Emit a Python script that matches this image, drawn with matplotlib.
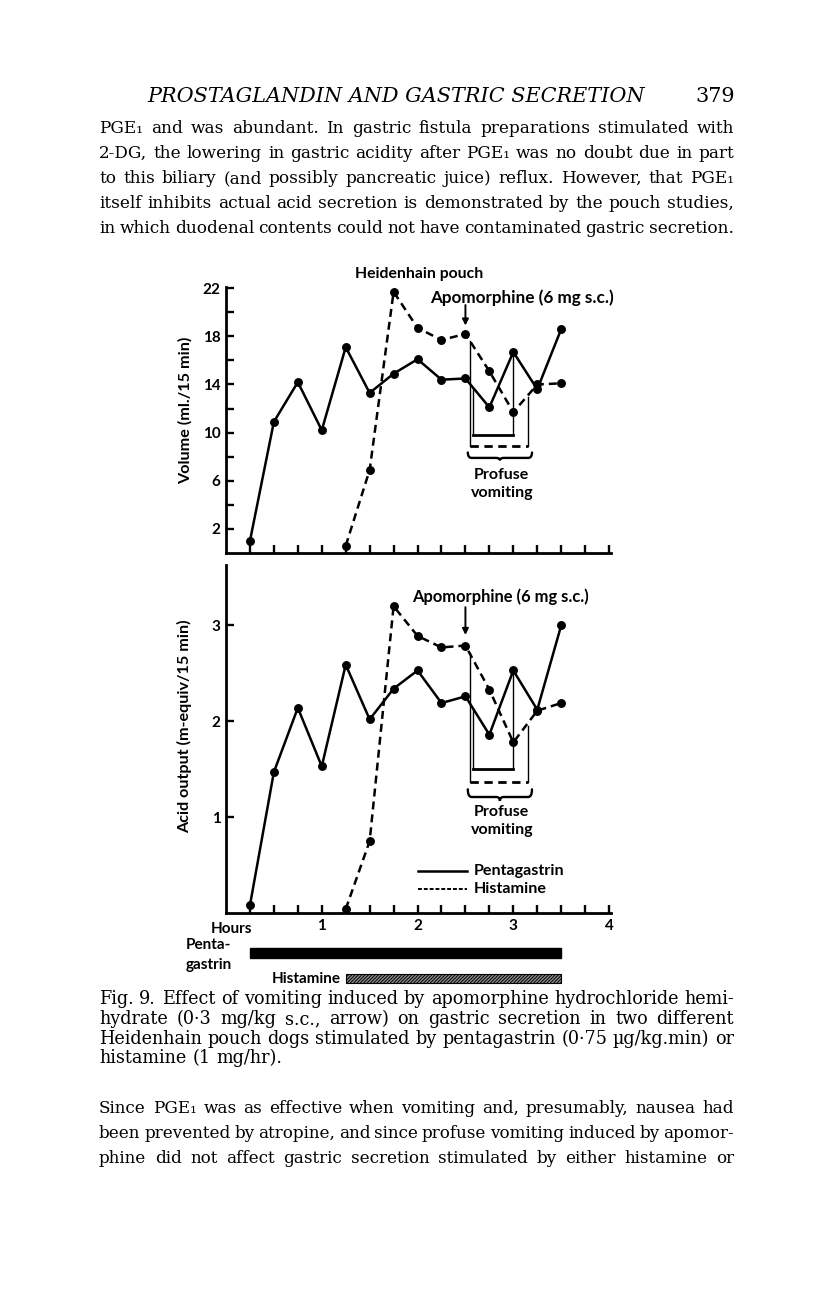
import numpy as np
import matplotlib
matplotlib.use("Agg")
import matplotlib.pyplot as plt
from matplotlib.path import Path
from matplotlib.patches import PathPatch

# ---------------- data ----------------
hours_penta = [0.25, 0.5, 0.75, 1.0, 1.25, 1.5, 1.75, 2.0, 2.25, 2.5, 2.75, 3.0, 3.25, 3.5]
volume_penta = [1.0, 10.9, 14.2, 10.2, 17.1, 13.3, 14.9, 16.1, 14.4, 14.5, 12.1, 16.7, 13.6, 18.6]
acid_penta = [0.08, 1.47, 2.14, 1.53, 2.59, 2.02, 2.34, 2.53, 2.19, 2.26, 1.86, 2.53, 2.12, 3.0]

hours_hist = [1.25, 1.5, 1.75, 2.0, 2.25, 2.5, 2.75, 3.0, 3.25, 3.5]
volume_hist = [0.6, 6.9, 21.7, 18.7, 17.7, 18.2, 15.1, 11.7, 14.0, 14.1]
acid_hist = [0.04, 0.75, 3.20, 2.89, 2.77, 2.79, 2.33, 1.78, 2.11, 2.19]

apomorphine_time = 2.5
vomit_penta = (2.58, 3.0)     # profuse vomiting period, pentagastrin dog (h)
vomit_hist = (2.545, 3.155)   # profuse vomiting period, histamine dog (h)
infusion_penta = (0.25, 3.5)
infusion_hist = (1.25, 3.5)

vol_ticks = [2, 4, 6, 8, 10, 12, 14, 16, 18, 20, 22]
vol_ticklabels = ["2", "", "6", "", "10", "", "14", "", "18", "", "22"]
acid_ticks = [1, 2, 3]
acid_ticklabels = ["1", "2", "3"]
hour_ticks = list(np.arange(0.25, 4.001, 0.25))
hour_ticklabels = [str(int(t)) if float(t).is_integer() else "" for t in hour_ticks]

# ---------------- figure ----------------
W, H = 816, 1296
fig = plt.figure(figsize=(W / 100, H / 100), dpi=100)
fig.patch.set_facecolor("white")
plt.rcParams["hatch.linewidth"] = 0.7
renderer = fig.canvas.get_renderer()

SANS = "Lato"
SERIF = "DejaVu Serif"


def fx(px):
    return px / W


def fy(py):
    return 1 - py / H


def measure(s, size, **kw):
    t = fig.text(0, 0, s, fontsize=size, **kw)
    w = t.get_window_extent(renderer).width
    t.remove()
    return w


def text_block(lines, x0, x1, baselines, justify, family, gap_em=0.24, style="normal"):
    width = x1 - x0
    sizes = []
    for line, j in zip(lines, justify):
        if j:
            words = line.split(" ")
            a = sum(measure(w, 10, family=family, style=style) for w in words)
            sizes.append(width / (a / 10 + (len(words) - 1) * gap_em * 100 / 72))
    size = min(sizes)
    for line, y, j in zip(lines, baselines, justify):
        words = line.split(" ")
        widths = [measure(w, size, family=family, style=style) for w in words]
        if j:
            gap = (width - sum(widths)) / (len(words) - 1)
        else:
            gap = gap_em * size * 100 / 72 * 1.15
        x = x0
        for w, wd in zip(words, widths):
            fig.text(fx(x), fy(y), w, fontsize=size, family=family, style=style,
                     va="baseline", ha="left")
            x += wd + gap
    return size


# ---- page header ----
hdr = "PROSTAGLANDIN AND GASTRIC SECRETION"
hsize = 10 * 496 / measure(hdr, 10, family=SERIF, style="italic")
fig.text(fx(147), fy(102), hdr, fontsize=hsize, family=SERIF, style="italic",
         va="baseline", ha="left")
fig.text(fx(735), fy(102), "379", fontsize=hsize, family=SERIF, va="baseline", ha="right")

para1 = [
    "PGE\u2081 and was abundant. In gastric fistula preparations stimulated with",
    "2-DG, the lowering in gastric acidity after PGE\u2081 was no doubt due in part",
    "to this biliary (and possibly pancreatic juice) reflux. However, that PGE\u2081",
    "itself inhibits actual acid secretion is demonstrated by the pouch studies,",
    "in which duodenal contents could not have contaminated gastric secretion.",
]
text_block(para1, 99, 734, [133, 158, 183, 208, 233], [True] * 5, SERIF)

caption = [
    "Fig. 9. Effect of vomiting induced by apomorphine hydrochloride hemi-",
    "hydrate (0\u00b73 mg/kg s.c., arrow) on gastric secretion in two different",
    "Heidenhain pouch dogs stimulated by pentagastrin (0\u00b775 \u00b5g/kg.min) or",
    "histamine (1 mg/hr).",
]
text_block(caption, 99, 734, [1004, 1024, 1044, 1063], [True, True, True, False], SERIF,
           gap_em=0.3)

para2 = [
    "Since PGE\u2081 was as effective when vomiting and, presumably, nausea had",
    "been prevented by atropine, and since profuse vomiting induced by apomor-",
    "phine did not affect gastric secretion stimulated by either histamine or",
]
text_block(para2, 99, 734, [1113, 1138, 1163], [True] * 3, SERIF, gap_em=0.2)

# ---------------- chart axes ----------------
X0, X1 = 226, 611
XMAX = 4.02
ax1 = fig.add_axes([fx(X0), fy(553), (X1 - X0) / W, (553 - 287) / H])
ax2 = fig.add_axes([fx(X0), fy(913), (X1 - X0) / W, (913 - 565) / H])

LW_SPINE = 2.0
for ax in (ax1, ax2):
    ax.set_facecolor("none")
    ax.set_xlim(0, XMAX)
    for s in ("top", "right"):
        ax.spines[s].set_visible(False)
    for s in ("left", "bottom"):
        ax.spines[s].set_linewidth(LW_SPINE)
    ax.tick_params(direction="in", length=6, width=1.7, pad=4, colors="k")
    ax.set_xticks(hour_ticks)

TICKFS = 11
ax1.set_ylim(0, 22.1)
ax2.set_ylim(0, 3.63)
ax1.set_yticks(vol_ticks, vol_ticklabels, fontweight="bold", family=SANS, fontsize=TICKFS)
ax2.set_yticks(acid_ticks, acid_ticklabels, fontweight="bold", family=SANS, fontsize=TICKFS)
ax1.set_xticks(hour_ticks, [""] * len(hour_ticks))
ax2.set_xticks(hour_ticks, hour_ticklabels, fontweight="bold", family=SANS, fontsize=TICKFS)
ax2.tick_params(axis="x", pad=4)
fig.text(fx(231), fy(929), "Hours", ha="center", va="center",
         fontweight="bold", family=SANS, fontsize=TICKFS)

fig.text(fx(185), fy(410), "Volume (ml./15 min)", rotation=90, ha="center", va="center",
         fontweight="bold", family=SANS, fontsize=11.6)
fig.text(fx(185), fy(726), "Acid output (m-equiv/15 min)", rotation=90, ha="center",
         va="center", fontweight="bold", family=SANS, fontsize=11.6)

LW = 1.8
DASH = (3.2, 2.0)
MS = 5.4


def brace(ax, xa, xb, ytop, ybot, ynotch):
    d = (xb - xa) * 0.06
    xm = (xa + xb) / 2
    verts = [(xa, ytop), (xa, ybot), (xa + d, ybot),
             (xm - d, ybot), (xm, ybot), (xm, ynotch),
             (xm, ybot), (xm + d, ybot),
             (xb - d, ybot), (xb, ybot), (xb, ytop)]
    codes = [Path.MOVETO, Path.CURVE3, Path.CURVE3,
             Path.LINETO, Path.CURVE3, Path.CURVE3,
             Path.CURVE3, Path.CURVE3,
             Path.LINETO, Path.CURVE3, Path.CURVE3]
    ax.add_patch(PathPatch(Path(verts, codes), fill=False, lw=1.7, edgecolor="k",
                           capstyle="round", clip_on=False))


def panel(ax, yp, yh, sol_bot, dash_bot, brace_y, prof_y, vom_y, apo_y, arrow_y, apo_x,
          apo_fs):
    ax.plot(hours_penta, yp, color="k", lw=LW, marker="o", ms=MS, clip_on=False,
            solid_joinstyle="miter")
    ax.plot(hours_hist, yh, color="k", lw=LW, dashes=DASH, marker="o", ms=MS, clip_on=False)
    # vomiting brackets
    xl, xr = vomit_penta
    ax.plot([xl, xl], [np.interp(xl, hours_penta, yp), sol_bot], color="k", lw=1.0)
    ax.plot([xr, xr], [np.interp(xr, hours_penta, yp), sol_bot], color="k", lw=1.0)
    ax.plot([xl, xr], [sol_bot, sol_bot], color="k", lw=2.0)
    xl, xr = vomit_hist
    ax.plot([xl, xl], [np.interp(xl, hours_hist, yh), dash_bot], color="k", lw=1.0)
    ax.plot([xr, xr], [np.interp(xr, hours_hist, yh) * 0.985, dash_bot], color="k", lw=1.0)
    ax.plot([xl, xr], [dash_bot, dash_bot], color="k", lw=2.0, dashes=(3.0, 2.0))
    brace(ax, vomit_hist[0] - 0.02, vomit_hist[1] + 0.04, *brace_y)
    xm = (vomit_hist[0] + vomit_hist[1]) / 2 + 0.03
    ax.text(xm, prof_y, "Profuse", ha="center", va="center", fontweight="bold",
            family=SANS, fontsize=11.5)
    ax.text(xm, vom_y, "vomiting", ha="center", va="center", fontweight="bold",
            family=SANS, fontsize=11.5)
    # apomorphine
    ax.text(apo_x, apo_y, "Apomorphine (6 mg s.c.)", ha="center", va="center",
            fontweight="bold", family=SANS, fontsize=apo_fs, clip_on=False)
    ax.annotate("", xy=(apomorphine_time, arrow_y[1]), xytext=(apomorphine_time, arrow_y[0]),
                arrowprops=dict(arrowstyle="-|>", lw=1.4, color="k", mutation_scale=9,
                                shrinkA=0, shrinkB=0))


panel(ax1, volume_penta, volume_hist, 9.8, 8.9, (8.35, 7.9, 7.7), 6.45, 4.95, 21.25,
      (20.6, 18.9), 3.09, 12.3)
panel(ax2, acid_penta, acid_hist, 1.50, 1.37, (1.29, 1.21, 1.17), 1.05, 0.87, 3.30,
      (3.19, 2.9), 2.87, 11.9)

ax1.text(2.02, 23.15, "Heidenhain pouch", ha="center", va="center", fontweight="bold",
         family=SANS, fontsize=11.3, clip_on=False)

# legend (bottom panel)
ax2.plot([2.0, 2.52], [0.44, 0.44], color="k", lw=1.8)
ax2.plot([2.0, 2.52], [0.25, 0.25], color="k", lw=1.4, dashes=(2.0, 1.0))
ax2.text(2.59, 0.44, "Pentagastrin", ha="left", va="center", fontweight="bold",
         family=SANS, fontsize=11.6)
ax2.text(2.59, 0.25, "Histamine", ha="left", va="center", fontweight="bold",
         family=SANS, fontsize=11.6)

# infusion bars
ax3 = fig.add_axes([fx(X0), fy(990), (X1 - X0) / W, 50 / H])
ax3.set_xlim(0, XMAX)
ax3.set_ylim(0, 50)
ax3.axis("off")
ax3.barh([37], [infusion_penta[1] - infusion_penta[0]], left=[infusion_penta[0]], height=10,
         color="k", edgecolor="k")
ax3.barh([11.5], [infusion_hist[1] - infusion_hist[0]], left=[infusion_hist[0]], height=9,
         color="#8c8c8c", edgecolor="k", hatch="//////////", lw=0.8)
fig.text(fx(186), fy(945), "Penta-", ha="left", va="center", fontweight="bold",
         family=SANS, fontsize=11)
fig.text(fx(186), fy(965), "gastrin", ha="left", va="center", fontweight="bold",
         family=SANS, fontsize=11)
fig.text(fx(341), fy(979), "Histamine", ha="right", va="center", fontweight="bold",
         family=SANS, fontsize=11)

fig.savefig("out.png", dpi=100, facecolor="white")
